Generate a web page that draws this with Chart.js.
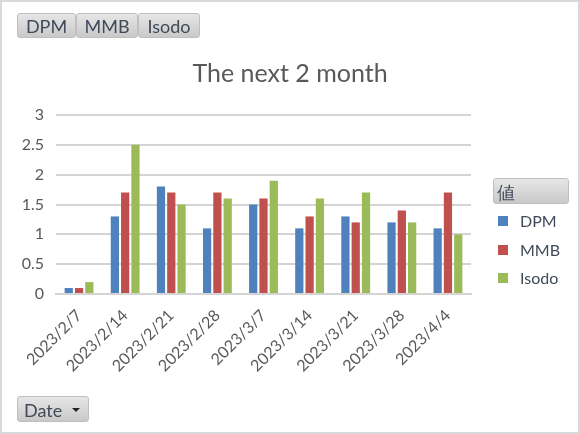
<!DOCTYPE html>
<html>
<head>
<meta charset="utf-8">
<script src="https://cdn.jsdelivr.net/npm/chart.js@4.4.0/dist/chart.umd.min.js"></script>
<style>
  html, body { margin: 0; padding: 0; background: #fff; }
  #wrap { position: relative; width: 580px; height: 434px; box-sizing: border-box; border: 2px solid #d9d9d9; overflow: hidden; font-family: Lato, "Noto Sans", sans-serif; color: #595959; }
  #wrap canvas { position: absolute; left: -2px; top: -2px; }
  .btn { position: absolute; height: 25px; line-height: 25px; box-sizing: border-box; border: 1px solid #bfbfbf; border-radius: 3px;
         background: linear-gradient(#e6e6e6, #c9c9c9); color: #404a5a; font-size: 18px; text-align: center; }
  #title { position: absolute; left: 0; width: 576px; top: 55px; text-align: center; font-size: 25px; color: #595959; }
  .leg { position: absolute; left: 496px; font-size: 16px; color: #404a5a; height: 20px; line-height: 20px; }
  .leg span.sw { display: inline-block; width: 10px; height: 10px; vertical-align: middle; margin-right: 12px; margin-top: -3px; }
  .arrow { position: absolute; right: 8px; top: 11px; width: 0; height: 0; border-left: 4px solid transparent; border-right: 4px solid transparent; border-top: 4px solid #222; }
</style>
</head>
<body>
<div id="wrap">
  <canvas id="c" width="580" height="434"></canvas>
  <div id="title">The next 2 month</div>
  <div id="buttons"></div>
  <div id="legend"></div>
</div>
<script>
const categories = ["2023/2/7","2023/2/14","2023/2/21","2023/2/28","2023/3/7","2023/3/14","2023/3/21","2023/3/28","2023/4/4"];
const seriesNames = ["DPM","MMB","Isodo"];
const seriesColors = ["#4f81bd","#c0504d","#9bbb59"];
const dpm   = [0.1, 1.3, 1.8, 1.1, 1.5, 1.1, 1.3, 1.2, 1.1];
const mmb   = [0.1, 1.7, 1.7, 1.7, 1.6, 1.3, 1.2, 1.4, 1.7];
const isodo = [0.2, 2.5, 1.5, 1.6, 1.9, 1.6, 1.7, 1.2, 1.0];
const yTicks = ["0","0.5","1","1.5","2","2.5","3"];
const legendTitle = "値";
const axisField = "Date";

const seriesValues = [dpm, mmb, isodo];

// field buttons
const btnWrap = document.getElementById('buttons');
const btnPos = [[15,11,59],[74,11,62],[136,11,62]];
seriesNames.forEach((n,i)=>{
  const b = document.createElement('div');
  b.className = 'btn';
  b.style.left = btnPos[i][0]+'px'; b.style.top = btnPos[i][1]+'px'; b.style.width = btnPos[i][2]+'px';
  b.textContent = n;
  btnWrap.appendChild(b);
});
const lb = document.createElement('div');
lb.className = 'btn'; lb.style.left='491px'; lb.style.top='176px'; lb.style.width='76px'; lb.style.height='26px'; lb.style.lineHeight='26px';
lb.style.textAlign='left'; lb.style.paddingLeft='3px'; lb.textContent = legendTitle;
btnWrap.appendChild(lb);
const db = document.createElement('div');
db.className = 'btn'; db.style.left='15px'; db.style.top='394px'; db.style.width='72px'; db.style.height='26px'; db.style.lineHeight='26px';
db.style.textAlign='left'; db.style.paddingLeft='6px'; db.textContent = axisField;
const ar = document.createElement('div'); ar.className='arrow'; db.appendChild(ar);
btnWrap.appendChild(db);

// legend
const legWrap = document.getElementById('legend');
seriesNames.forEach((n,i)=>{
  const d = document.createElement('div');
  d.className='leg'; d.style.top = (209 + i*28.5)+'px';
  d.innerHTML = '<span class="sw" style="background:'+seriesColors[i]+'"></span>';
  d.appendChild(document.createTextNode(n));
  legWrap.appendChild(d);
});

new Chart(document.getElementById('c'), {
  type: 'bar',
  data: {
    labels: categories,
    datasets: seriesNames.map((n,i)=>({
      label: n, data: seriesValues[i], backgroundColor: seriesColors[i],
      barPercentage: 0.8, categoryPercentage: 0.67
    }))
  },
  options: {
    responsive: false, animation: false,
    devicePixelRatio: 1,
    layout: { padding: { top: 115, right: 109, left: 0, bottom: 0 } },
    plugins: { legend: { display: false }, title: { display: false }, tooltip: { enabled: false } },
    scales: {
      x: {
        grid: { display: false },
        border: { color: '#d4d4d4', width: 2 },
        ticks: { color: '#595959', font: { family: 'Lato', size: 16 }, minRotation: 45, maxRotation: 45, padding: 4 },
        afterFit: s => { s.height = 140; }
      },
      y: {
        min: 0, max: 3,
        grid: { color: '#d4d4d4', lineWidth: 2, drawTicks: false },
        border: { display: false },
        ticks: { stepSize: 0.5, color: '#595959', font: { family: 'Lato', size: 16 }, padding: 12,
                 callback: (v, i) => yTicks[i] },
        afterFit: s => { s.width = 56; }
      }
    }
  }
});
</script>
</body>
</html>
